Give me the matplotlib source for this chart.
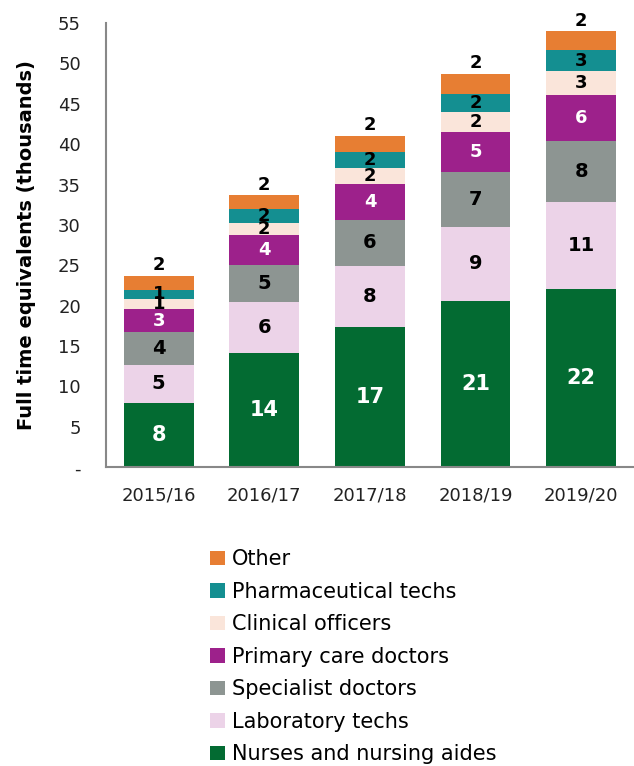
import matplotlib.pyplot as plt
import numpy as np

# Data (thousands of FTE)
years = ["2015/16", "2016/17", "2017/18", "2018/19", "2019/20"]
nurses = [8.0, 14.2, 17.4, 20.6, 22.1]
lab_techs = [4.7, 6.2, 7.55, 9.2, 10.7]
specialists = [4.0, 4.7, 5.7, 6.7, 7.55]
primary_care = [2.9, 3.7, 4.4, 5.0, 5.7]
clinical_officers = [1.2, 1.5, 2.0, 2.5, 3.0]
pharma_techs = [1.2, 1.7, 2.0, 2.2, 2.55]
other = [1.7, 1.7, 2.0, 2.5, 2.4]

series = [
    ("Nurses and nursing aides", nurses, "#036b32", "white"),
    ("Laboratory techs", lab_techs, "#ecd3e8", "black"),
    ("Specialist doctors", specialists, "#8d9592", "black"),
    ("Primary care doctors", primary_care, "#9d218b", "white"),
    ("Clinical officers", clinical_officers, "#fae5da", "black"),
    ("Pharmaceutical techs", pharma_techs, "#148f91", "black"),
    ("Other", other, "#e77e33", "black"),
]

plt.rcParams['font.family'] = ['DejaVu Sans']

fig = plt.figure(figsize=(6.34, 7.66), dpi=100)
ax = fig.add_axes([0.167, 0.390, 0.833, 0.580])

x = np.arange(len(years))
bottom = np.zeros(len(years))
handles = []
for name, vals, color, tcolor in series:
    vals = np.array(vals)
    bars = ax.bar(x, vals, width=0.66, bottom=bottom, color=color, label=name)
    handles.append(bars)
    for xi, b, v in zip(x, bottom, vals):
        lab = f"{v:.0f}"
        if name == "Other":
            ax.annotate(lab, (xi, b + v), xytext=(0, 1), textcoords="offset points",
                        ha="center", va="bottom", fontsize=13, fontweight="bold",
                        color=tcolor)
        else:
            if name == "Nurses and nursing aides":
                size = 15
            elif name in ("Laboratory techs", "Specialist doctors"):
                size = 14
            else:
                size = 13
            ax.text(xi, b + v / 2, lab, ha="center", va="center",
                    fontsize=size, fontweight="bold", color=tcolor)
    bottom = bottom + vals

ax.set_xlim(-0.5, 4.5)
ax.set_ylim(0, 55)
ax.set_yticks(np.arange(0, 56, 5))
ax.set_yticklabels(["-"] + [str(v) for v in range(5, 56, 5)])
ax.set_xticks(x)
ax.set_xticklabels(years)
ax.tick_params(axis="both", length=0, labelsize=13, colors="#222222")
ax.tick_params(axis="y", pad=18)
ax.tick_params(axis="x", pad=14)
for s in ["top", "right"]:
    ax.spines[s].set_visible(False)
for s in ["left", "bottom"]:
    ax.spines[s].set_color("#888888")
    ax.spines[s].set_linewidth(1.5)
ax.set_ylabel("Full time equivalents (thousands)", fontsize=14,
              fontweight="bold", labelpad=16)

fig.legend(handles[::-1], [s[0] for s in series][::-1],
           loc="upper left", bbox_to_anchor=(0.318, 0.294),
           frameon=False, fontsize=15, handlelength=0.7, handleheight=0.7,
           handletextpad=0.35, labelspacing=0.6, borderaxespad=0)

fig.savefig("out.png", dpi=100)
